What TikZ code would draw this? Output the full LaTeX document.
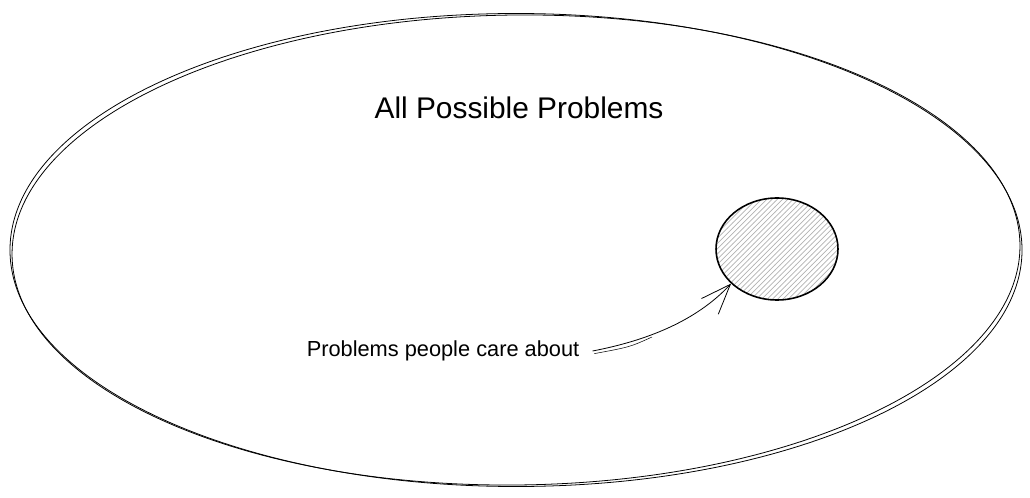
\documentclass[tikz,border=0pt]{standalone}
\usepackage{fontspec}
\setmainfont{Liberation Sans}
\usetikzlibrary{shapes.geometric,patterns,arrows.meta}

\begin{document}
\begin{tikzpicture}[x=.02cm,y=.02cm,line width=.45pt,
  sketch/.style={draw,ellipse,inner sep=0pt},
  care/.style={sketch,line width=.9pt,pattern=north east lines,pattern color=black!30}]
\useasboundingbox (0,0) rectangle (1030,497);
\node[sketch,minimum width=1012*.02cm,minimum height=473*.02cm] (all) at (516,247) {};
\draw[rotate around={.6:(516,247)}] (516,247) ellipse (504 and 235);
\node[care,minimum width=122*.02cm,minimum height=102*.02cm] (circ) at (777,248) {};
\node[font=\fontsize{17}{20}\selectfont] (title) at (519,389) {All Possible Problems};
\node[font=\fontsize{12.4}{15}\selectfont] (lbl) at (443,146) {Problems people care about};
\draw[-{Straight Barb[length=6mm,width=4.6mm]}] ([xshift=4]lbl.east) .. controls (655,158) and (700,180) .. (circ.217);
\draw[line width=.3pt] ([xshift=5,yshift=-1.5]lbl.east) .. controls (630,150) .. (652,160);
\end{tikzpicture}
\end{document}
